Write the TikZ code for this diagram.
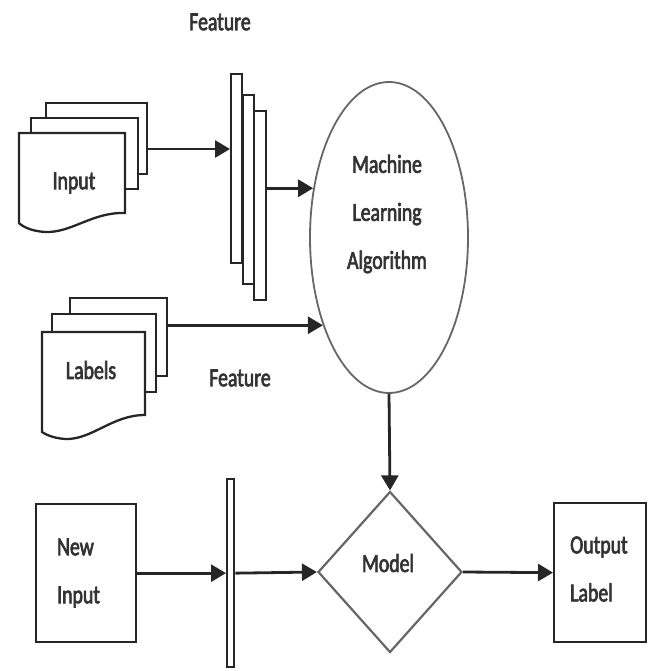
\documentclass[tikz,border=0pt]{standalone}
\usepackage{fontspec}
\setmainfont[FakeStretch=0.76,FakeBold=2.5]{Carlito}
\usetikzlibrary{shapes.geometric,arrows.meta}
\begin{document}
\begin{tikzpicture}[x=1pt,y=-1pt,
  line/.style={draw=black!85, line width=2.3pt},
  thin/.style={draw=black!60, line width=1.8pt},
  box/.style={line, fill=white, rectangle, inner sep=0pt, anchor=north west},
  arr/.style={line, line width=2.8pt, -{Triangle[length=15pt,width=17pt]}},
  txt/.style={font=\fontsize{26}{48}\selectfont, text=black!80, inner sep=0pt}]
\useasboundingbox (0,0) rectangle (654,671);
% Input document stack
\node[box, minimum width=101pt, minimum height=71pt] (inb) at (45,102) {};
\node[box, minimum width=107pt, minimum height=71pt] (inm) at (30,117) {};
\draw[line, fill=white] (19,133) -- (125,133) -- (125,213)
  .. controls (92,212) and (72,233) .. (45,232)
  .. controls (30,231) and (22,226) .. (19,223) -- cycle;
\node[txt] (intxt) at (74,183) {Input};
% Labels document stack
\node[box, minimum width=97pt, minimum height=78pt] (lb) at (69,297) {};
\node[box, minimum width=104pt, minimum height=78pt] (lm) at (51,313) {};
\draw[line, fill=white] (42,332) -- (145,332) -- (145,415)
  .. controls (112,415) and (92,440) .. (65,439)
  .. controls (52,438) and (45,434) .. (42,432) -- cycle;
\node[txt] (lbtxt) at (91,370) {Labels};
% Feature stack
\node[box, minimum width=12pt, minimum height=189pt] (f3) at (253,110) {};
\node[box, minimum width=11pt, minimum height=189pt] (f2) at (242,94) {};
\node[box, minimum width=11pt, minimum height=189pt] (f1) at (230,73) {};
\node[txt] (feat1) at (220,22) {Feature};
\node[txt] (feat2) at (240,378) {Feature};
% Machine learning algorithm
\node[ellipse, thin, minimum width=158pt, minimum height=311pt, inner sep=0pt] (ml) at (389,237.5) {};
\node[txt, align=center] (mltxt) at (387,214) {Machine\\Learning\\Algorithm};
% Bottom row
\node[box, minimum width=100pt, minimum height=138pt] (ni) at (35,503) {};
\node[txt, align=left, anchor=west] (nitxt) at (57,573) {New\\Input};
\node[box, minimum width=7pt, minimum height=188pt] (bar) at (226,478) {};
\node[diamond, thin, line width=2.2pt, minimum width=144pt, minimum height=161pt, inner sep=0pt] (mod) at (390,572) {};
\node[txt] (modtxt) at (388,563) {Model};
\node[box, minimum width=92pt, minimum height=139pt] (out) at (553,502) {};
\node[txt, align=left, anchor=west] (outtxt) at (570,569) {Output\\Label};
% Connectors
\draw[arr] (inb.east |- 0,149) -- (f1.west |- 0,149);
\draw[arr] (f3.east |- ml.147.7) -- (ml.147.7);
\draw[arr] (lb.east |- ml.233.3) -- (ml.233.3);
\draw[arr] (ml.south) -- (mod.north);
\draw[arr] (ni.east) -- (bar.west);
\draw[arr] (bar.east) -- (mod.west);
\draw[arr] (mod.east) -- (out.west);
\end{tikzpicture}
\end{document}
